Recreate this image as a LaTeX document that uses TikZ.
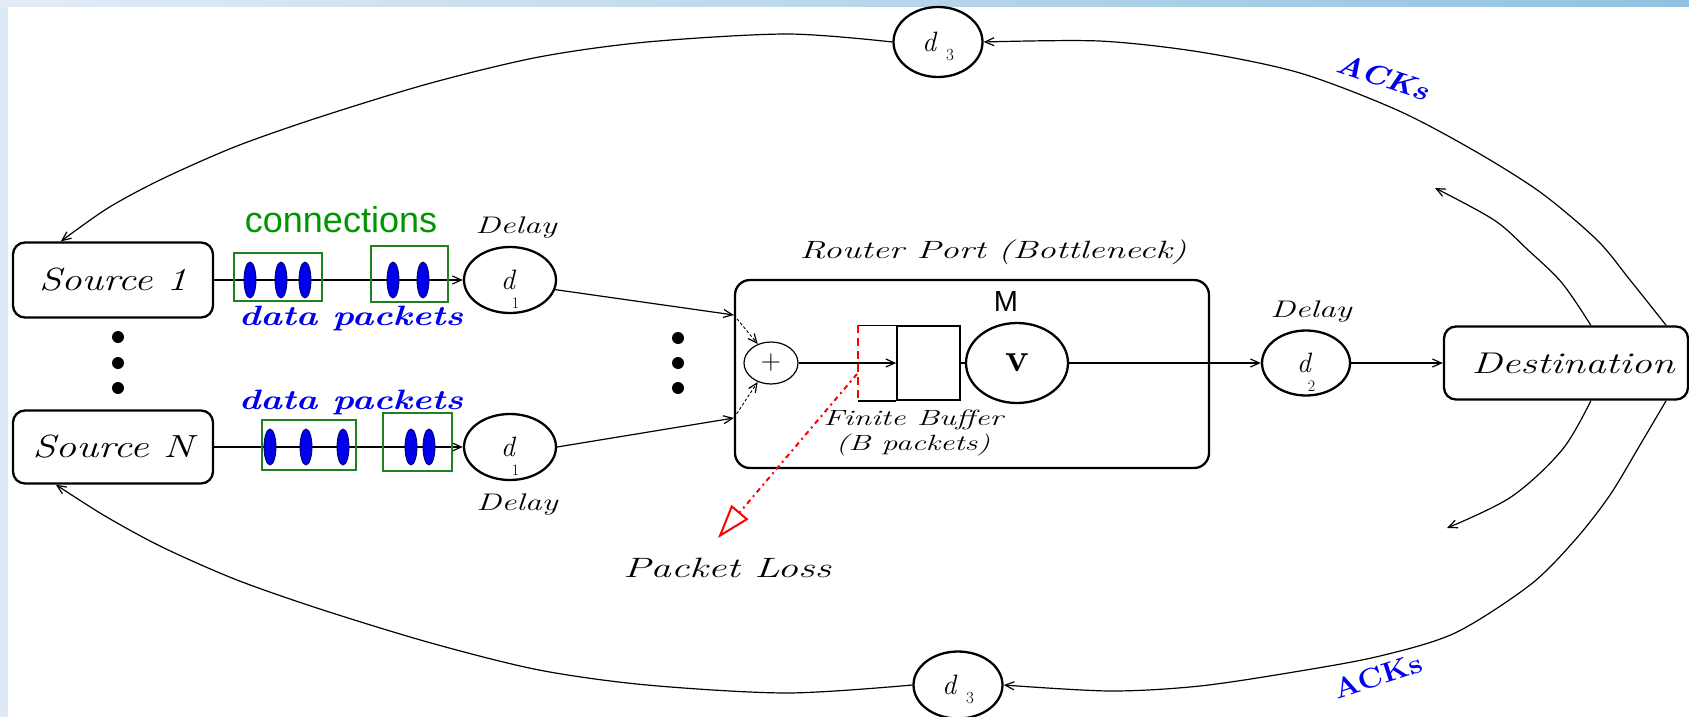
\documentclass[tikz,border=0pt]{standalone}
\usepackage{fontspec}
\usepackage{graphicx}
\usetikzlibrary{shapes.geometric,arrows.meta,calc}
\newfontfamily\sansf{Liberation Sans}
\newcommand{\fs}[1]{\fontsize{#1}{#1}\selectfont}
\newcommand{\sx}[2]{\scalebox{#1}[1]{#2}}
\newcommand{\dsub}[1]{{\fs{28}\itshape d}\hspace{-3pt}\smash{\raisebox{-19pt}{\fs{16}#1}}}
\newcommand{\dthree}{{\fs{28}\itshape d}\hspace{10pt}\smash{\raisebox{-9pt}{\fs{17}3}}}
\definecolor{bandL}{RGB}{226,236,246}
\definecolor{bandR}{RGB}{145,194,225}
\definecolor{strip}{RGB}{221,233,245}
\definecolor{grn}{RGB}{0,150,0}
\definecolor{grnbox}{RGB}{30,130,30}
\definecolor{pblue}{RGB}{0,0,235}
\begin{document}
\begin{tikzpicture}[x=1pt,y=-1pt,
  ln/.style={line width=1.2pt},
  arr/.style={ln,-{Straight Barb[length=9pt,width=8pt,line width=1.2pt]}},
  circ/.style={ellipse,draw,line width=2.3pt,inner sep=0pt},
  rbox/.style={draw,rounded corners=12pt,line width=2.3pt,inner sep=0pt},
  gbox/.style={draw=grnbox,line width=1.6pt,inner sep=0pt},
  pkt/.style={ellipse,fill=pblue,draw=blue!40!black,line width=0.8pt,minimum width=12pt,minimum height=36pt,inner sep=0pt},
  lbl/.style={inner sep=0pt},
  bigdot/.style={circle,fill=black,minimum size=12pt,inner sep=0pt},
]
\useasboundingbox (0,0) rectangle (1689,717);
\fill[white] (0,0) rectangle (1689,717);
\shade[left color=bandL,right color=bandR] (0,0) rectangle (1689,7);
\fill[strip] (0,7) rectangle (8,717);

% sources
\node[rbox,minimum width=200pt,minimum height=75pt] (src1) at (113,280) {\fs{32}\sx{1.27}{\itshape Source 1}};
\node[rbox,minimum width=200pt,minimum height=73pt] (srcN) at (113,447) {\fs{32}\sx{1.3}{\itshape Source N}};
\node[bigdot] (sd1) at (118,337) {};
\node[bigdot] (sd2) at (118,363) {};
\node[bigdot] (sd3) at (118,388) {};

% delays d1
\node[circ,minimum width=92pt,minimum height=66pt] (d1t) at (510,280) {\dsub{1}};
\node[circ,minimum width=92pt,minimum height=66pt] (d1b) at (510,447) {\dsub{1}};
\node[lbl] (dl1) at (516,228) {\fs{24}\sx{1.4}{\itshape Delay}};
\node[lbl] (dl2) at (517,505) {\fs{24}\sx{1.4}{\itshape Delay}};

% source lines
\draw[arr] (src1) -- (d1t);
\draw[arr] (srcN) -- (d1b);

% packets and boxes
\node[gbox,minimum width=88pt,minimum height=48pt] (g1) at (278,277) {};
\node[gbox,minimum width=77pt,minimum height=56pt] (g2) at (409.5,274) {};
\node[gbox,minimum width=94pt,minimum height=50pt] (g3) at (309,445) {};
\node[gbox,minimum width=69pt,minimum height=58pt] (g4) at (417.5,442) {};
\node[pkt] (pa1) at (250,280) {};
\node[pkt] (pa2) at (281,280) {};
\node[pkt] (pa3) at (305,280) {};
\node[pkt] (pa4) at (393,280) {};
\node[pkt] (pa5) at (423,280) {};
\node[pkt] (pb1) at (270,447) {};
\node[pkt] (pb2) at (306,447) {};
\node[pkt] (pb3) at (343,447) {};
\node[pkt] (pb4) at (411,447) {};
\node[pkt] (pb5) at (429,447) {};
\node[lbl,text=grn] (conn) at (341,220) {\sansf\fs{36}connections};
\node[lbl,text=pblue] (dp1) at (351,318) {\fs{28}\sx{1.3}{\bfseries\itshape data packets}};
\node[lbl,text=pblue] (dp2) at (351,402) {\fs{28}\sx{1.3}{\bfseries\itshape data packets}};

% middle dots
\node[bigdot] (md1) at (678,338) {};
\node[bigdot] (md2) at (678,363) {};
\node[bigdot] (md3) at (678,388) {};

% router
\node[rbox,rounded corners=15pt,minimum width=474pt,minimum height=188pt] (router) at (972,374) {};
\node[lbl] (rlab) at (993,252) {\fs{25}\sx{1.45}{\itshape Router Port (Bottleneck)}};
\node[ellipse,draw,line width=1.2pt,minimum width=54pt,minimum height=42pt,inner sep=0pt] (plus) at (771,363) {\fs{28}+};
\node[draw,line width=1.5pt,minimum width=63pt,minimum height=74pt,inner sep=0pt] (buf) at (928.5,363) {};
\draw[line width=1.5pt] (buf.north west) -- ++(-38,0) (buf.south west) -- ++(-38,0);
\draw[red,line width=2pt,dash pattern=on 8pt off 5pt] ([xshift=-38pt]buf.north west) -- ([xshift=-38pt]buf.south west);
\node[circ,minimum width=102pt,minimum height=80pt] (srv) at (1017,363) {\fs{40}\bfseries v};
\node[lbl] (mlab) at (1006,302) {\sansf\fs{29}M};
\node[lbl] (fb) at (913,420) {\fs{22}\sx{1.46}{\itshape Finite Buffer}};
\node[lbl] (bp) at (913,445) {\fs{22}\sx{1.44}{\itshape (B packets)}};

\coordinate (rin1) at ([yshift=59pt]router.west);
\coordinate (rin2) at ([yshift=-44pt]router.west);
\draw[arr] (d1t.-12) -- (rin1);
\draw[arr] (d1b.east) -- (rin2);
\draw[arr,densely dashed,line width=0.9pt] (rin1) -- (plus.125);
\draw[arr,densely dashed,line width=0.9pt] (rin2) -- (plus.235);
\draw[arr] (plus) -- (buf);
\draw[ln] (buf.east) -- (srv.west);

% packet loss
\coordinate (ls) at (857,374);
\coordinate (lt) at (718,538);
\draw[red,line width=2pt,dash pattern=on 5pt off 4pt on 2pt off 4pt,-{Triangle[open,length=34pt,width=22pt,line width=2pt]}] (ls) -- (lt);
\node[lbl] (pl) at (727,568) {\fs{28}\sx{1.47}{\itshape Packet Loss}};

% d2 and destination
\node[circ,minimum width=88pt,minimum height=65pt] (d2) at (1306,363) {\dsub{2}};
\node[lbl] (dl3) at (1311,312) {\fs{24}\sx{1.4}{\itshape Delay}};
\node[rbox,minimum width=244pt,minimum height=73pt] (dest) at (1566,363) {\hspace*{14pt}\fs{30}\sx{1.37}{\itshape Destination}};
\draw[arr] (srv) -- (d2);
\draw[arr] (d2) -- (dest);

% d3 nodes
\node[circ,minimum width=89pt,minimum height=70pt] (d3t) at (938,42) {\dthree};
\node[circ,minimum width=89pt,minimum height=67pt] (d3b) at (958,685) {\dthree};

% ACK arcs
\coordinate (dA) at ([xshift=-23pt]dest.north east);
\coordinate (dB) at ([xshift=-23pt]dest.south east);
\coordinate (dC) at ([xshift=148pt]dest.north west);
\coordinate (dD) at ([xshift=148pt]dest.south west);
\coordinate (s1a) at ([xshift=49pt]src1.north west);
\coordinate (sNa) at ([xshift=44pt]srcN.south west);
\coordinate (ie1) at (1435,188);
\coordinate (ie2) at (1447,528);
\draw[arr] plot[smooth,tension=0.5] coordinates {(dA) (1630,280) (1597,240) (1540,192) (1473,150) (1397,110) (1300,73) (1200,52) (1099,41) (d3t.east)};
\draw[arr] plot[smooth,tension=0.5] coordinates {(d3t.west) (787,34) (647,42) (539,57) (431,83) (323,116) (237,146) (162,179) (108,208) (s1a)};
\draw[arr] plot[smooth,tension=0.5] coordinates {(dB) (1640,445) (1610,495) (1575,540) (1530,585) (1455,633) (1380,656) (1300,671) (1200,686) (1110,691) (d3b.east)};
\draw[arr] plot[smooth,tension=0.5] coordinates {(d3b.west) (787,693) (647,685) (539,670) (431,643) (323,610) (237,580) (162,547) (105,516) (sNa)};
\draw[arr] plot[smooth,tension=0.55] coordinates {(dC) (1562,283) (1528,250) (1494,220) (ie1)};
\draw[arr] plot[smooth,tension=0.55] coordinates {(dD) (1562,450) (1511,497) (ie2)};
\node[lbl,text=pblue,rotate=-18] (ack1) at (1383,77) {\fs{28}\sx{1.15}{\bfseries\itshape ACKs}};
\node[lbl,text=pblue,rotate=18] (ack2) at (1378,676) {\fs{28}\sx{1.1}{\bfseries ACKs}};
\end{tikzpicture}
\end{document}
